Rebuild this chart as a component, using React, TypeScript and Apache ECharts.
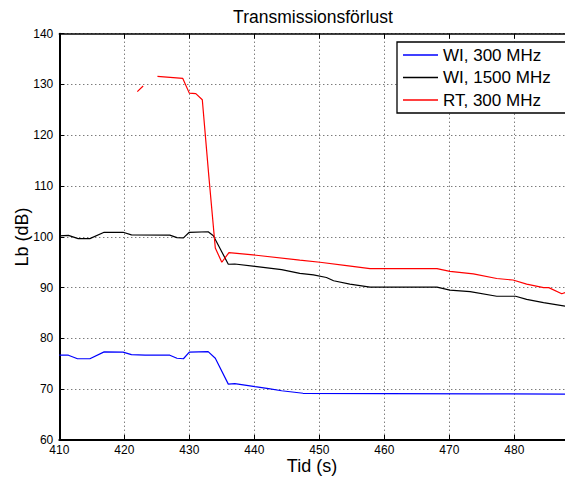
import React, { useEffect, useRef } from "react";
import * as echarts from "echarts";

// ---- Data ----
const titleText = "Transmissionsförlust";
const xAxisTitle = "Tid (s)";
const yAxisTitle = "Lb (dB)";
const seriesNames = ["WI, 300 MHz", "WI, 1500 MHz", "RT, 300 MHz"];

const wi300Time = [410, 411.4, 412.8, 414.7, 416.9, 419.8, 421.1, 423.2, 427.0, 428.1, 429.1, 430.0, 432.9, 434.0, 436.0, 437.0, 440.1, 442.2, 444.2, 447.5, 460, 475, 488];
const wi300Loss = [76.7, 76.7, 76.0, 76.0, 77.35, 77.3, 76.8, 76.7, 76.7, 76.1, 76.0, 77.3, 77.4, 76.1, 71.0, 71.1, 70.5, 70.1, 69.7, 69.2, 69.15, 69.1, 69.05];

const wi1500Time = [410, 411.4, 412.9, 414.7, 416.9, 419.8, 421.1, 427.0, 428.1, 429.1, 430.0, 432.9, 433.7, 436.0, 437.0, 440.1, 444.2, 447.0, 449.1, 451.1, 452.2, 454.7, 457.8, 468.1, 470.1, 473.2, 477.3, 480.2, 481.9, 484.5, 488];
const wi1500Loss = [100.2, 100.3, 99.65, 99.65, 100.9, 100.9, 100.4, 100.35, 99.85, 99.8, 100.9, 101.0, 100.2, 94.6, 94.65, 94.2, 93.55, 92.8, 92.5, 92.0, 91.35, 90.7, 90.1, 90.1, 89.5, 89.2, 88.3, 88.3, 87.7, 87.05, 86.3];

const rt300Time = [422.0, 422.9, 424.0, 425.1, 429.0, 430.0, 431.0, 432.0, 433.0, 434.0, 435.0, 436.1, 439.8, 447.0, 450.1, 454.2, 457.8, 468.1, 470.1, 473.7, 477.3, 479.8, 481.9, 484.5, 485.3, 487.3, 488];
const rt300Loss: (number | null)[] = [128.6, 129.7, null, 131.6, 131.2, 128.3, 128.2, 127.0, 112.0, 97.8, 95.0, 96.9, 96.45, 95.4, 95.0, 94.35, 93.75, 93.75, 93.2, 92.7, 91.8, 91.5, 90.7, 90.0, 90.0, 88.8, 89.1];

const xMin = 410;
const xMax = 490;
const xStep = 10;
const yMin = 60;
const yMax = 140;
const yStep = 10;

const FONT = '"Liberation Sans", Arial, Helvetica, sans-serif';

function zip(t: number[], v: (number | null)[]) {
  return t.map((x, i) => [x, v[i] === null ? "-" : v[i]]);
}

export default function App() {
  const ref = useRef<HTMLDivElement>(null);

  useEffect(() => {
    if (!ref.current) return;
    const chart = echarts.init(ref.current, undefined, { renderer: "svg" });

    const gridLeft = 59.3;
    const gridTop = 33.7;
    const gridWidth = 520;
    const gridHeight = 406.3;

    const dotted = { color: "#444", width: 1, type: [1, 3] as number[] };

    chart.setOption({
      animation: false,
      backgroundColor: "#fff",
      color: ["#0000ff", "#000000", "#ff0000"],
      textStyle: { fontFamily: FONT },
      grid: {
        left: gridLeft,
        top: gridTop,
        width: gridWidth,
        height: gridHeight,
        containLabel: false,
        outerBoundsMode: "none",
      },
      legend: {
        orient: "vertical",
        left: 397,
        top: 42,
        padding: [3, 16, 3, 6],
        itemWidth: 35,
        itemHeight: 1.5,
        itemGap: 2.5,
        icon: "rect",
        borderColor: "#000",
        borderWidth: 1.3,
        backgroundColor: "#fff",
        data: seriesNames,
        textStyle: { fontSize: 17, lineHeight: 20, color: "#000", fontFamily: FONT },
      },
      xAxis: [
        {
          type: "value",
          min: xMin,
          max: xMax,
          interval: xStep,
          position: "bottom",
          axisLine: { show: true, lineStyle: { color: "#000", width: 2 } },
          axisTick: { show: true, inside: true, length: 5, lineStyle: { color: "#000", width: 1 } },
          axisLabel: { color: "#000", fontSize: 12, margin: 4, fontFamily: FONT, showMaxLabel: false },
          splitLine: { show: true, lineStyle: dotted },
        },
        {
          type: "value",
          min: xMin,
          max: xMax,
          interval: xStep,
          position: "top",
          axisLine: { show: true, lineStyle: { color: "#000", width: 1.5 } },
          axisTick: { show: true, inside: true, length: 5, lineStyle: { color: "#000", width: 1 } },
          axisLabel: { show: false },
          splitLine: { show: false },
        },
      ],
      yAxis: {
        type: "value",
        min: yMin,
        max: yMax,
        interval: yStep,
        axisLine: { show: true, lineStyle: { color: "#000", width: 2 } },
        axisTick: { show: true, inside: true, length: 5, lineStyle: { color: "#000", width: 1 } },
        axisLabel: { color: "#000", fontSize: 12, margin: 6, fontFamily: FONT },
        splitLine: { show: true, lineStyle: dotted },
      },
      graphic: [
        {
          type: "text",
          x: 313,
          y: 17,
          style: { text: titleText, font: `17.5px ${FONT}`, fill: "#000", textAlign: "center", textVerticalAlign: "middle" },
        },
        {
          type: "text",
          x: 312,
          y: 466,
          style: { text: xAxisTitle, font: `18px ${FONT}`, fill: "#000", textAlign: "center", textVerticalAlign: "middle" },
        },
        {
          type: "text",
          x: 22,
          y: 237,
          rotation: Math.PI / 2,
          style: { text: yAxisTitle, font: `18px ${FONT}`, fill: "#000", textAlign: "center", textVerticalAlign: "middle" },
        },
      ],
      series: [
        {
          name: seriesNames[0],
          type: "line",
          data: zip(wi300Time, wi300Loss),
          showSymbol: false,
          symbol: "none",
          connectNulls: false,
          lineStyle: { width: 1.2, color: "#0000ff" },
        },
        {
          name: seriesNames[1],
          type: "line",
          data: zip(wi1500Time, wi1500Loss),
          showSymbol: false,
          symbol: "none",
          connectNulls: false,
          lineStyle: { width: 1.2, color: "#000000" },
        },
        {
          name: seriesNames[2],
          type: "line",
          data: zip(rt300Time, rt300Loss),
          showSymbol: false,
          symbol: "none",
          connectNulls: false,
          lineStyle: { width: 1.2, color: "#ff0000" },
        },
      ],
    });

    return () => chart.dispose();
  }, []);

  return (
    <div
      ref={ref}
      style={{ position: "fixed", left: 0, top: 0, width: 565, height: 478, background: "#fff" }}
    />
  );
}
